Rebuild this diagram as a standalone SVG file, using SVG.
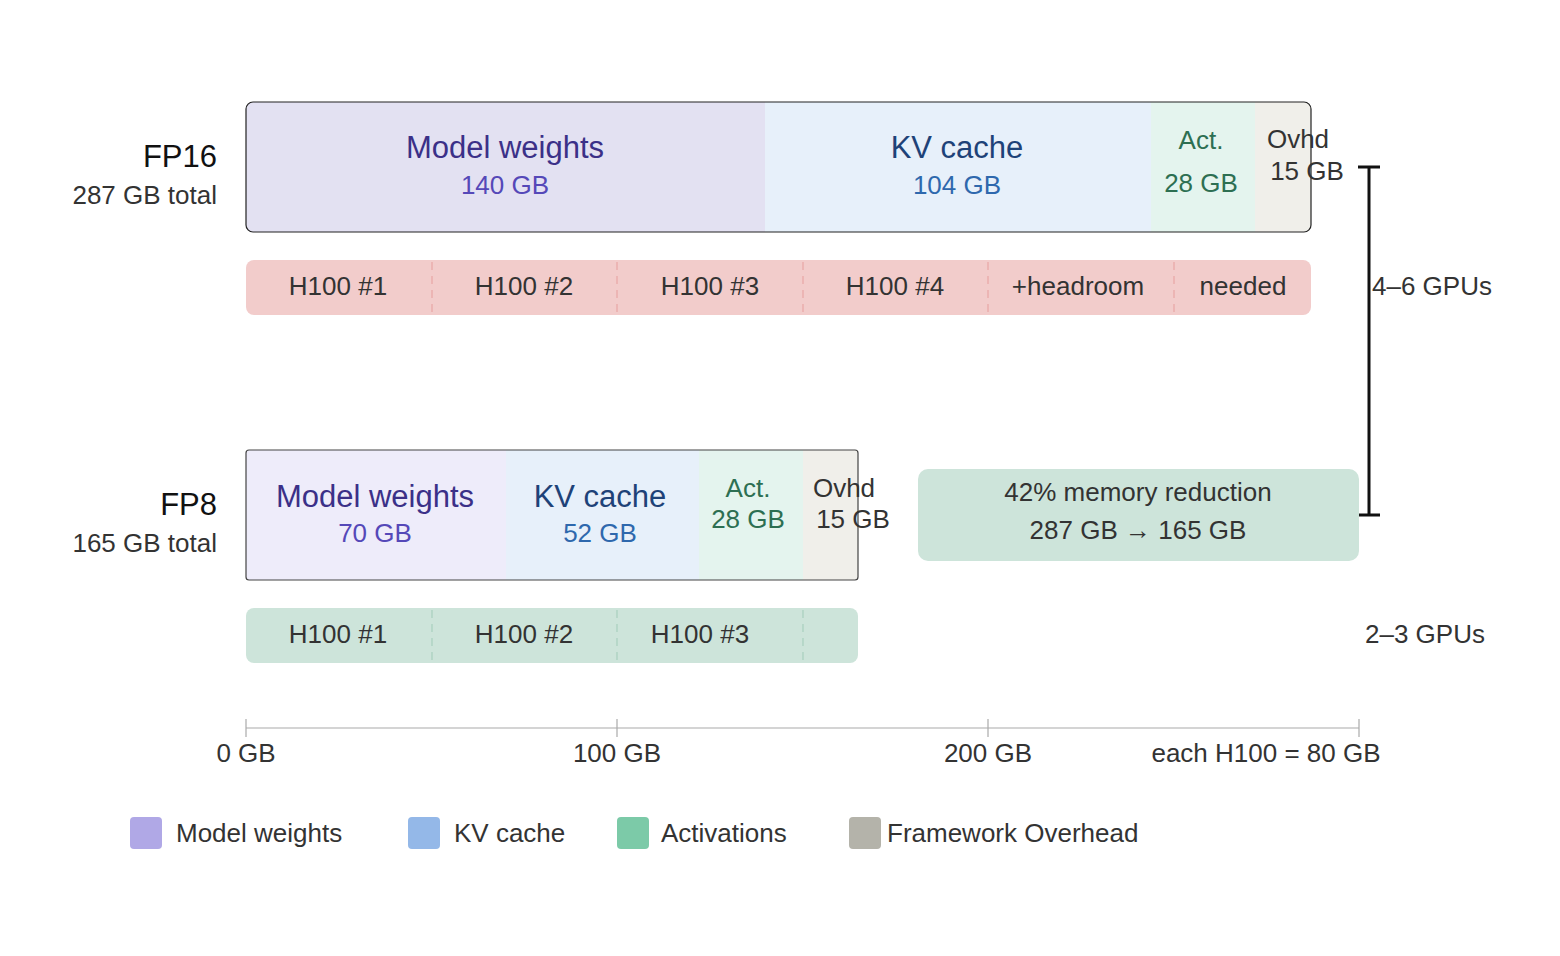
<svg xmlns="http://www.w3.org/2000/svg" width="1560" height="956" viewBox="0 0 1560 956">
<style>
text{font-family:"Liberation Sans",Arial,sans-serif}
.t{font-size:31px;text-anchor:middle}
.s{font-size:26px;text-anchor:middle}
.g{font-size:26px;fill:#333;text-anchor:middle}
.lbl{font-size:26px;fill:#333}
.div16{stroke:#e8a6a6;stroke-width:1.2;stroke-dasharray:8 6}
.div8{stroke:#a8d0bf;stroke-width:1.2;stroke-dasharray:8 6}
</style>
<defs>
<clipPath id="c16"><rect x="246" y="102" width="1065" height="130" rx="7"/></clipPath>
<clipPath id="c8"><rect x="246" y="450" width="612" height="130" rx="3"/></clipPath>
</defs>
<rect width="1560" height="956" fill="#fff"/>

<g id="fp16">
<text x="217" y="167" font-size="31" text-anchor="end" fill="#111">FP16</text>
<text x="217" y="204" font-size="26" text-anchor="end" fill="#333">287 GB total</text>
<g clip-path="url(#c16)">
<rect x="246" y="102" width="519" height="130" fill="#e3e1f2"/>
<rect x="765" y="102" width="386" height="130" fill="#e7f0fa"/>
<rect x="1151" y="102" width="104" height="130" fill="#e4f4ee"/>
<rect x="1255" y="102" width="56" height="130" fill="#f0efea"/>
</g>
<rect x="246" y="102" width="1065" height="130" rx="7" fill="none" stroke="#222" stroke-width="1.2"/>
<text class="t" x="505" y="158" fill="#3b3088">Model weights</text>
<text class="s" x="505" y="194" fill="#5548b8">140 GB</text>
<text class="t" x="957" y="158" fill="#1e4278">KV cache</text>
<text class="s" x="957" y="194" fill="#2e68ad">104 GB</text>
<text class="s" x="1201" y="149" fill="#2d6f52">Act.</text>
<text class="s" x="1201" y="192" fill="#2d6f52">28 GB</text>
<text class="s" x="1298" y="148" fill="#333">Ovhd</text>
<text class="s" x="1307" y="180" fill="#333">15 GB</text>
</g>

<g id="gpu16">
<rect x="246" y="260" width="1065" height="55" rx="8" fill="#f2cccb"/>
<g class="div16"><line x1="432" y1="262" x2="432" y2="313"/><line x1="617" y1="262" x2="617" y2="313"/><line x1="803" y1="262" x2="803" y2="313"/><line x1="988" y1="262" x2="988" y2="313"/><line x1="1174" y1="262" x2="1174" y2="313"/></g>
<text class="g" x="338" y="295">H100 #1</text>
<text class="g" x="524" y="295">H100 #2</text>
<text class="g" x="710" y="295">H100 #3</text>
<text class="g" x="895" y="295">H100 #4</text>
<text class="g" x="1078" y="295">+headroom</text>
<text class="g" x="1243" y="295">needed</text>
</g>

<g id="fp8">
<text x="217" y="515" font-size="31" text-anchor="end" fill="#111">FP8</text>
<text x="217" y="552" font-size="26" text-anchor="end" fill="#333">165 GB total</text>
<g clip-path="url(#c8)">
<rect x="246" y="450" width="260" height="130" fill="#eeecfa"/>
<rect x="506" y="450" width="193" height="130" fill="#e7f0fa"/>
<rect x="699" y="450" width="104" height="130" fill="#e4f4ee"/>
<rect x="803" y="450" width="55" height="130" fill="#f0efea"/>
</g>
<rect x="246" y="450" width="612" height="130" rx="3" fill="none" stroke="#444" stroke-width="1.2"/>
<text class="t" x="375" y="507" fill="#3b3088">Model weights</text>
<text class="s" x="375" y="542" fill="#5548b8">70 GB</text>
<text class="t" x="600" y="507" fill="#1e4278">KV cache</text>
<text class="s" x="600" y="542" fill="#2e68ad">52 GB</text>
<text class="s" x="748" y="497" fill="#2d6f52">Act.</text>
<text class="s" x="748" y="528" fill="#2d6f52">28 GB</text>
<text class="s" x="844" y="497" fill="#333">Ovhd</text>
<text class="s" x="853" y="528" fill="#333">15 GB</text>
</g>

<g id="gpu8">
<rect x="246" y="608" width="612" height="55" rx="8" fill="#cde4da"/>
<g class="div8"><line x1="432" y1="610" x2="432" y2="661"/><line x1="617" y1="610" x2="617" y2="661"/><line x1="803" y1="610" x2="803" y2="661"/></g>
<text class="g" x="338" y="643">H100 #1</text>
<text class="g" x="524" y="643">H100 #2</text>
<text class="g" x="700" y="643">H100 #3</text>
</g>

<g id="connectors">
<path d="M1369 167V515M1358 167H1380M1358 515H1380" stroke="#111" stroke-width="3" fill="none"/>
</g>
<text class="lbl" x="1372" y="295">4–6 GPUs</text>
<text class="lbl" x="1365" y="643">2–3 GPUs</text>

<g id="reduction">
<rect x="918" y="469" width="441" height="92" rx="10" fill="#cde4da"/>
<text class="g" x="1138" y="501">42% memory reduction</text>
<text class="g" x="1138" y="539">287 GB → 165 GB</text>
</g>

<g id="axis" stroke="#aaa" stroke-width="1.2">
<line x1="246" y1="728" x2="1359" y2="728"/>
<line x1="246" y1="719" x2="246" y2="737"/><line x1="617" y1="719" x2="617" y2="737"/><line x1="988" y1="719" x2="988" y2="737"/><line x1="1359" y1="719" x2="1359" y2="737"/>
</g>
<text class="g" x="246" y="762">0 GB</text>
<text class="g" x="617" y="762">100 GB</text>
<text class="g" x="988" y="762">200 GB</text>
<text class="g" x="1266" y="762">each H100 = 80 GB</text>

<g id="legend">
<rect x="130" y="817" width="32" height="32" rx="4" fill="#b0a8e6"/>
<text class="lbl" x="176" y="842">Model weights</text>
<rect x="408" y="817" width="32" height="32" rx="4" fill="#94b8e8"/>
<text class="lbl" x="454" y="842">KV cache</text>
<rect x="617" y="817" width="32" height="32" rx="4" fill="#7ccaa8"/>
<text class="lbl" x="661" y="842">Activations</text>
<rect x="849" y="817" width="32" height="32" rx="4" fill="#b4b3aa"/>
<text class="lbl" x="887" y="842">Framework Overhead</text>
</g>
</svg>
